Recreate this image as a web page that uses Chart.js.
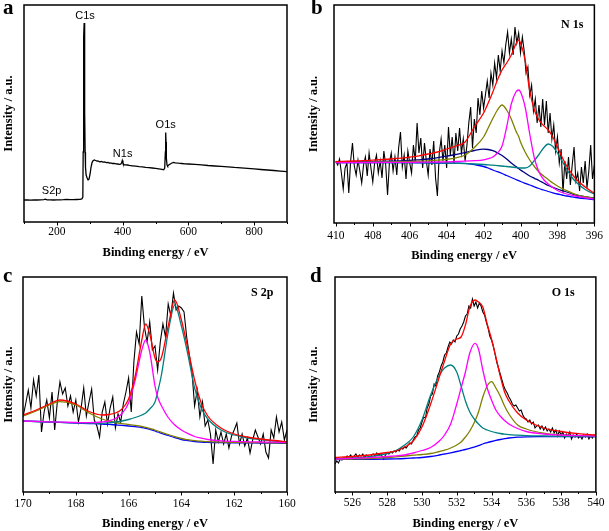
<!DOCTYPE html>
<html>
<head>
<meta charset="utf-8">
<script src="https://cdn.jsdelivr.net/npm/chart.js@4.4.1/dist/chart.umd.min.js"></script>
<style>
  body { margin: 0; background: #fff; width: 609px; height: 531px; position: relative; overflow: hidden; }
  canvas { position: absolute; }
  .letter { position: absolute; font: bold 21px "Liberation Serif", serif; line-height: 21px; color: #000; }
</style>
</head>
<body>
<canvas id="chart-a" width="305" height="265" style="left:0;top:0"></canvas>
<canvas id="chart-b" width="304" height="265" style="left:305px;top:0"></canvas>
<canvas id="chart-c" width="305" height="266" style="left:0;top:265px"></canvas>
<canvas id="chart-d" width="304" height="266" style="left:305px;top:265px"></canvas>
<div class="letter" style="left:3px;top:-3px">a</div>
<div class="letter" style="left:311px;top:-3px">b</div>
<div class="letter" style="left:3px;top:265px">c</div>
<div class="letter" style="left:310px;top:265px">d</div>
<script>
// ---- panel a: survey spectrum ----
const surveyEnergy = [100, 110, 120, 130, 140, 150, 160, 165, 170, 180, 190, 200, 210, 220, 230, 240, 250, 260, 270, 276,
  279, 280, 281, 282, 283, 284, 285, 286, 287, 289, 292, 295, 298, 301, 304, 307, 310, 314, 318, 322,
  326, 330, 335, 340, 345, 350, 355, 360, 365, 370, 375, 380, 385, 390, 394, 397, 399, 401, 404, 408,
  415, 420, 430, 440, 450, 460, 470, 480, 490, 500, 510, 520, 525, 528, 530, 531, 532, 533, 535, 537,
  540, 545, 550, 555, 560, 570, 580, 590, 600, 620, 640, 660, 680, 700, 720, 740, 760, 780, 800, 820,
  840, 860, 880, 900];
const surveyCounts = [22, 22.2, 21.9, 22.1, 22, 22.2, 22.3, 22.8, 22.2, 22.1, 22, 22.2, 22.1, 22.3, 22.6, 22.3, 22.4, 22.5, 22.6, 23,
  25, 70, 140, 185, 199, 170, 110, 70, 55, 47, 44, 42, 43, 48, 55, 59.5, 61.2, 62, 61.5, 61,
  60.8, 60.2, 60.5, 59.8, 60, 59.4, 59.6, 59, 58.8, 58.5, 58.7, 58.1, 58, 57.6, 57.8, 59, 61.5, 59, 57.4, 57.2,
  57, 56.6, 56.2, 55.8, 55.4, 55.1, 54.7, 54.4, 54, 53.6, 53.2, 52.6, 52.2, 54, 70, 89.5, 80, 64, 57, 56,
  57, 58, 59, 59.6, 59.2, 58.8, 58.5, 58.2, 58, 57.6, 57.2, 56.5, 56, 55.6, 55.2, 54.6, 54.2, 53.6, 53.1, 52.5,
  52, 51.5, 50.9, 50.3];
const surveyTicks = [200, 400, 600, 800];
const surveyMinor = [100, 300, 500, 700, 900];
const surveyPeaks = [
  { x: 285.5, y: 206, text: 'C1s' },
  { x: 400, y: 68, text: 'N1s' },
  { x: 531, y: 97, text: 'O1s' },
  { x: 184, y: 31, text: 'S2p' }
];

// ---- panel b: N 1s ----
const n1sCounts = [
  62, 58, 64, 50, 34, 55, 60, 30, 62, 80,
  57, 48, 63, 52, 40, 58, 66, 47, 70, 55,
  41, 60, 68, 50, 62, 45, 72, 58, 28, 60,
  70, 52, 66, 48, 75, 91, 56, 68, 44, 72,
  60, 50, 78, 62, 100, 70, 85, 55, 80, 62,
  48, 74, 58, 82, 45, 27, 70, 84, 62, 78,
  55, 96, 68, 86, 60, 90, 72, 95, 70, 84,
  62, 78, 100, 116, 75, 104, 90, 125, 108, 132,
  115, 128, 142, 125, 150, 138, 160, 145, 168, 152,
  172, 160, 178, 191, 170, 184, 168, 196, 180, 190,
  170, 186, 172, 150, 156, 128, 138, 112, 124, 100,
  118, 96, 124, 98, 122, 90, 110, 84, 98, 72,
  86, 60, 74, 30, 62, 44, 66, 38, 58, 76,
  42, 50, 32, 56, 40, 62, 35, 52, 78, 44,
  58];
const n1sFitEnergy = [410, 409, 408, 407, 406, 405.5, 405, 404.5, 404, 403.5, 403, 402.5, 402, 401.75, 401.5, 401.25,
  401, 400.75, 400.5, 400.25, 400.1, 400, 399.75, 399.5, 399.25, 399, 398.75, 398.5, 398.25, 398, 397.75, 397.5,
  397.25, 397, 396.5, 396];
const n1sBackground = [60.5, 60.5, 60.5, 60.4, 60.3, 60.2, 60.1, 60, 59.9, 59.8, 59.6, 58.5, 56.5, 55, 53, 51.3,
  49.5, 47.5, 45.5, 43.5, 42.3, 41.5, 39.7, 38, 36.2, 34.5, 33, 31.5, 30.2, 29, 28, 27,
  26.2, 25.5, 24.3, 23.5];
const n1sPeak402 = [60.8, 61, 61.3, 61.8, 62.5, 63.2, 64, 65.3, 66.8, 68.5, 70.3, 72.5, 73.8, 73.5, 72.3, 70.2,
  67.5, 64, 60, 56.5, 54.5, 53, 50, 47, 44.7, 42.5, 40, 37.5, 35.7, 34, 32.5, 31,
  29.5, 28, 26.3, 25];
const n1sPeak401 = [60.7, 60.8, 61, 61.2, 61.5, 61.8, 62.2, 62.8, 63.7, 65.2, 68, 75.5, 86, 95, 104.5, 113,
  118, 113, 104, 92, 86.5, 81, 71, 63, 56.5, 51, 47, 43.5, 40, 37, 34.5, 32.3,
  30.3, 28.5, 26.3, 24.7];
const n1sPeak400 = [60.5, 60.5, 60.5, 60.6, 60.7, 60.8, 60.9, 61, 61.2, 61.5, 61.8, 62.3, 63.2, 64.3, 66, 70,
  77, 96, 119, 131, 133, 131, 116, 89, 65, 51, 43.5, 39, 35.5, 32.5, 30.5, 29,
  27.8, 26.8, 25.2, 24];
const n1sPeak398 = [60.5, 60.5, 60.5, 60.5, 60.4, 60.3, 60.2, 60.1, 60, 59.7, 59.4, 59, 58.5, 58.2, 57.8, 57.4,
  57, 56.5, 56, 55.5, 55.2, 55, 55, 57, 62.5, 68.5, 75, 79, 76.5, 70, 62, 54,
  46.5, 41, 33.5, 29];
const n1sEnvelope = [61.3, 62, 62.8, 64, 65.8, 67.2, 69, 71, 74, 77, 81, 96, 110, 120, 131, 143,
  153, 160, 168, 179, 183, 180, 163, 132, 113, 103, 97.5, 93, 86, 76, 66, 57,
  50, 44, 36, 29.7];
const n1sTicks = [410, 408, 406, 404, 402, 400, 398, 396];

// ---- panel c: S 2p ----
const s2pCounts = [
  75, 88, 102, 84, 112, 96, 117, 60, 80, 92,
  74, 100, 62, 90, 110, 98, 104, 86, 96, 80,
  92, 70, 84, 104, 76, 90, 103, 72, 66, 55,
  80, 90, 68, 84, 95, 64, 78, 70, 88, 100,
  114, 80, 130, 160, 148, 196, 165, 150, 170, 142,
  146, 122, 150, 168, 155, 188, 176, 199, 182, 186,
  184, 180, 155, 137, 120, 86, 102, 75, 90, 66,
  72, 58, 28, 62, 50, 60, 48, 58, 44, 56,
  62, 69, 48, 58, 46, 54, 39, 52, 62, 55,
  48, 58, 40, 34, 62, 54, 75, 60, 70, 52,
  62];
const s2pFitEnergy = [170, 169.5, 169, 168.6, 168, 167.5, 167, 166.75, 166.5, 166.25, 166, 165.75, 165.5, 165.35, 165.2,
  165, 164.9, 164.75, 164.5, 164.25, 164, 163.75, 163.5, 163.25, 163, 162.5, 162, 161.5, 161, 160.5, 160];
const s2pBackground = [71, 70.5, 70, 69.6, 69, 68.5, 68, 67.6, 67.1, 66.6, 66, 65.3, 64.5, 63.7, 62.6,
  61, 60, 58.7, 56.5, 54.3, 52.5, 51.4, 50.5, 50, 49.7, 49.4, 49.2, 49.1, 49, 48.8, 48.7];
const s2pPeak168 = [76, 81, 87, 90.3, 87, 79, 73, 71, 69.5, 68.4, 67.5, 66.6, 65.5, 64.6, 63.5,
  62, 61, 59.7, 57.5, 55.3, 53.5, 52.3, 51.3, 50.8, 50.3, 49.9, 49.6, 49.4, 49.3, 49.1, 49];
const s2pPeak165 = [71, 70.6, 70.2, 69.9, 69.5, 69.3, 70, 71, 73.5, 78.5, 89, 112, 142, 152, 140,
  106, 95, 86, 74.5, 67, 62, 58.3, 55.5, 53.8, 52.5, 51.2, 50.6, 50.2, 50, 49.8, 49.7];
const s2pPeak164 = [71, 70.5, 70, 69.6, 69.2, 68.8, 68.7, 69.2, 70, 71, 72.5, 74.5, 77, 79, 83,
  90, 100, 118, 160, 187, 166, 137, 104, 84, 73, 62, 57, 54, 52.5, 51, 50];
const s2pEnvelope = [77, 82, 88, 92, 88, 80.5, 77, 77.5, 79, 83, 93, 116, 152, 168, 158,
  134, 130, 135, 166, 192, 172, 143, 112, 89, 76, 64, 58, 55, 53, 51.5, 50.3];
const s2pTicks = [170, 168, 166, 164, 162, 160];

// ---- panel d: O 1s ----
const o1sCounts = [
  28, 31, 29, 33, 32, 34, 33, 36, 35, 37,
  34, 36, 38, 35, 37, 36, 38, 34, 37, 36,
  33, 37, 38, 36, 39, 37, 38, 36, 33, 37,
  39, 38, 40, 39, 41, 40, 42, 41, 44, 43,
  45, 44, 47, 49, 48, 52, 55, 56, 62, 64,
  70, 75, 74, 84, 88, 96, 98, 108, 106, 116,
  120, 126, 130, 137, 139, 145, 150, 148, 152, 150,
  156, 158, 163, 166, 170, 176, 178, 186, 184, 193,
  186, 190, 184, 189, 186, 180, 177, 170, 164, 156,
  152, 146, 138, 130, 124, 118, 112, 106, 102, 99,
  95, 92, 88, 86, 87, 84, 81, 82, 77, 74,
  73, 70, 72, 68, 70, 64, 66, 67, 63, 66,
  62, 65, 61, 63, 60, 64, 59, 62, 56, 61,
  57, 60, 54, 58, 56, 60, 53, 57, 55, 58,
  54, 56, 53, 57, 55, 58, 53, 56, 54, 57,
  55];
const o1sFitEnergy = [525, 526, 527, 528, 528.5, 529, 529.5, 530, 530.5, 531, 531.3, 531.65, 532, 532.25, 532.5, 532.75,
  533.05, 533.25, 533.5, 533.75, 534, 534.25, 534.5, 534.75, 535, 535.5, 536, 537, 538, 539, 540];
const o1sBackground = [32.5, 32.6, 32.7, 33, 33.2, 33.5, 34, 34.5, 35.5, 37, 38, 39.2, 40.5, 41.5, 42.5, 43.7,
  45.2, 46.3, 48, 49.3, 50.5, 51.6, 52.5, 53.3, 54, 54.8, 55.2, 55.4, 55.5, 55.5, 55.5];
const o1sPeak531 = [33.5, 34, 35.3, 38.5, 41.5, 47, 55, 72, 97, 117, 124, 127, 120, 106, 91, 80,
  72, 68, 64, 62, 60.5, 59.4, 58.5, 57.8, 57.3, 56.8, 56.4, 56, 55.7, 55.6, 55.5];
const o1sPeak533 = [33, 33.6, 34.4, 35.5, 36.2, 37, 39, 41.5, 44.5, 51, 57, 68, 88, 104, 120, 139,
  148.7, 143, 122, 104, 92, 82, 76, 71.5, 68, 63.5, 60.5, 58, 57, 56.4, 56];
const o1sPeak534 = [32.7, 33, 33.5, 34.5, 35.2, 36, 36.8, 37.5, 38.5, 40.5, 41.8, 44, 47, 50, 55, 61,
  71, 80, 95, 106, 110.3, 104, 96, 86, 78, 67, 63, 58.8, 57, 56.3, 56];
const o1sEnvelope = [34.7, 35.5, 37, 39.5, 41, 45, 51, 65, 88, 115, 131, 148, 153, 155, 167, 185,
  192, 190, 185, 168, 153, 135, 116, 100, 91, 79, 72, 64, 60.5, 58.3, 57];
const o1sTicks = [526, 528, 530, 532, 534, 536, 538, 540];

// uniform energy grid of the measured spectra (instrument step)
function energyGrid(start, end, step) {
  const n = Math.round(Math.abs(end - start) / step);
  const dir = end > start ? 1 : -1;
  const out = [];
  for (let i = 0; i <= n; i++) out.push(+(start + dir * i * step).toFixed(2));
  return out;
}

const COLORS = {
  raw: '#000000',
  envelope: '#ff0000',
  magenta: '#ff00ff',
  olive: '#808000',
  teal: '#008080',
  navy: '#000080',
  blue: '#0000ff'
};

function pairs(xs, ys) {
  return xs.map((x, i) => ({ x, y: ys[i] }));
}

function rawDataset(xs, ys, width) {
  return { data: pairs(xs, ys), borderColor: COLORS.raw, borderWidth: width || 1.1, pointRadius: 0, tension: 0, order: 10 };
}

function fitDataset(xs, ys, color, order) {
  return { data: pairs(xs, ys), borderColor: color, borderWidth: 1.3, pointRadius: 0, cubicInterpolationMode: 'monotone', order };
}

const framePlugin = {
  id: 'frame',
  afterDatasetsDraw(chart, args, opts) {
    const { ctx, chartArea: a, scales: { x, y } } = chart;
    ctx.save();
    ctx.strokeStyle = '#000';
    ctx.lineWidth = 1;
    const tick = (v, len) => {
      const px = Math.round(x.getPixelForValue(v)) + 0.5;
      ctx.beginPath();
      ctx.moveTo(px, a.bottom);
      ctx.lineTo(px, a.bottom + len);
      ctx.stroke();
    };
    (opts.minor || []).forEach((v) => tick(v, 2));
    (opts.major || []).forEach((v) => tick(v, 3.5));
    ctx.lineWidth = 1.5;
    ctx.strokeRect(a.left, a.top, a.right - a.left, a.bottom - a.top);
    (opts.texts || []).forEach((t) => {
      ctx.font = opts.textFont;
      ctx.fillStyle = '#000';
      ctx.textAlign = 'center';
      ctx.textBaseline = 'middle';
      ctx.fillText(t.text, x.getPixelForValue(t.x), y.getPixelForValue(t.y));
    });
    ctx.restore();
  }
};

function buildPanel(id, cfg) {
  const canvas = document.getElementById(id);
  return new Chart(canvas, {
    type: 'line',
    data: { datasets: cfg.datasets },
    plugins: [framePlugin],
    options: {
      responsive: false,
      animation: false,
      devicePixelRatio: 1,
      layout: { padding: { top: cfg.area.top, right: canvas.width - cfg.area.right, left: 0, bottom: 0 } },
      plugins: {
        legend: { display: false },
        tooltip: { enabled: false },
        frame: { major: cfg.ticks, minor: cfg.minor, texts: cfg.texts, textFont: cfg.textFont }
      },
      scales: {
        x: {
          type: 'linear',
          min: cfg.xMin,
          max: cfg.xMax,
          reverse: !!cfg.reverse,
          afterBuildTicks: (s) => { s.ticks = cfg.ticks.map((v) => ({ value: v })); },
          afterFit: (s) => { s.height = canvas.height - cfg.area.bottom; },
          grid: { display: false, drawTicks: false },
          border: { display: false },
          ticks: {
            color: '#000',
            padding: cfg.tickPad,
            autoSkip: false,
            maxRotation: 0,
            font: { family: '"Liberation Serif", serif', size: 11.5 }
          },
          title: {
            display: true,
            text: 'Binding energy / eV',
            color: '#000',
            padding: { top: 0, bottom: cfg.titlePad },
            font: { family: '"Liberation Serif", serif', size: 12.5, weight: 'bold' }
          }
        },
        y: {
          min: 0,
          max: cfg.yMax,
          afterFit: (s) => { s.width = cfg.area.left; },
          grid: { display: false, drawTicks: false },
          border: { display: false },
          ticks: { display: false },
          title: {
            display: true,
            text: 'Intensity / a.u.',
            color: '#000',
            padding: { top: 1, bottom: 0 },
            font: { family: '"Liberation Serif", serif', size: 12.5, weight: 'bold' }
          }
        }
      }
    }
  });
}

buildPanel('chart-a', {
  area: { left: 24, top: 5, right: 287, bottom: 222 },
  xMin: 100, xMax: 900, yMax: 217,
  ticks: surveyTicks, minor: surveyMinor,
  tickPad: 3, titlePad: 5,
  texts: surveyPeaks, textFont: '11px "Liberation Sans", Arial, sans-serif',
  datasets: [rawDataset(surveyEnergy, surveyCounts, 1.3)]
});

buildPanel('chart-b', {
  area: { left: 29, top: 5, right: 293, bottom: 223 },
  xMin: 396, xMax: 410.1, yMax: 218, reverse: true,
  ticks: n1sTicks, minor: [409, 407, 405, 403, 401, 399, 397],
  tickPad: 6, titlePad: 2,
  texts: [{ x: 397.2, y: 198, text: 'N 1s' }], textFont: 'bold 12px "Liberation Serif", serif',
  datasets: [
    rawDataset(energyGrid(410, 396, 0.1), n1sCounts),
    fitDataset(n1sFitEnergy, n1sBackground, COLORS.blue, 6),
    fitDataset(n1sFitEnergy, n1sPeak402, COLORS.navy, 5),
    fitDataset(n1sFitEnergy, n1sPeak401, COLORS.olive, 4),
    fitDataset(n1sFitEnergy, n1sPeak398, COLORS.teal, 3),
    fitDataset(n1sFitEnergy, n1sPeak400, COLORS.magenta, 2),
    fitDataset(n1sFitEnergy, n1sEnvelope, COLORS.envelope, 1)
  ]
});

buildPanel('chart-c', {
  area: { left: 23, top: 12, right: 287, bottom: 227 },
  xMin: 160, xMax: 170, yMax: 215, reverse: true,
  ticks: s2pTicks, minor: [169, 167, 165, 163, 161],
  tickPad: 5, titlePad: 0,
  texts: [{ x: 160.94, y: 198.7, text: 'S 2p' }], textFont: 'bold 12px "Liberation Serif", serif',
  datasets: [
    rawDataset(energyGrid(170, 160, 0.1), s2pCounts),
    fitDataset(s2pFitEnergy, s2pBackground, COLORS.blue, 6),
    fitDataset(s2pFitEnergy, s2pPeak168, COLORS.olive, 5),
    fitDataset(s2pFitEnergy, s2pPeak164, COLORS.teal, 3),
    fitDataset(s2pFitEnergy, s2pPeak165, COLORS.magenta, 2),
    fitDataset(s2pFitEnergy, s2pEnvelope, COLORS.envelope, 1)
  ]
});

buildPanel('chart-d', {
  area: { left: 30, top: 12, right: 293, bottom: 227 },
  xMin: 525, xMax: 540, yMax: 215,
  ticks: o1sTicks, minor: [525, 527, 529, 531, 533, 535, 537, 539],
  tickPad: 4.5, titlePad: 0,
  texts: [{ x: 538.12, y: 198.7, text: 'O 1s' }], textFont: 'bold 12px "Liberation Serif", serif',
  datasets: [
    rawDataset(energyGrid(525, 540, 0.1), o1sCounts),
    fitDataset(o1sFitEnergy, o1sBackground, COLORS.blue, 6),
    fitDataset(o1sFitEnergy, o1sPeak534, COLORS.olive, 5),
    fitDataset(o1sFitEnergy, o1sPeak531, COLORS.teal, 4),
    fitDataset(o1sFitEnergy, o1sPeak533, COLORS.magenta, 3),
    fitDataset(o1sFitEnergy, o1sEnvelope, COLORS.envelope, 1)
  ]
});
</script>
</body>
</html>
